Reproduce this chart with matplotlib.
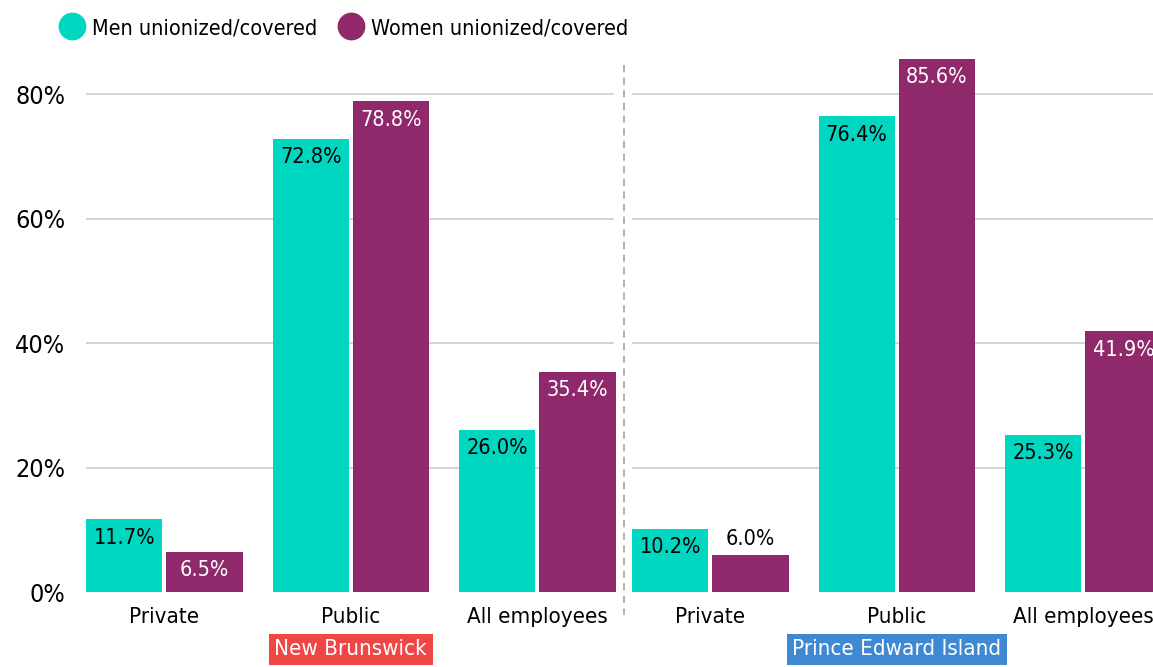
import matplotlib
matplotlib.use("Agg")
import matplotlib.pyplot as plt
from matplotlib import font_manager
from matplotlib.lines import Line2D
import numpy as np

# data
categories = ["Private", "Public", "All employees"]
regions = ["New Brunswick", "Prince Edward Island"]
region_colors = ["#ef4646", "#3f88d2"]
men = [[11.7, 72.8, 26.0], [10.2, 76.4, 25.3]]
women = [[6.5, 78.8, 35.4], [6.0, 85.6, 41.9]]
yticks = [0, 20, 40, 60, 80]

TEAL = "#00d7c0"
PURPLE = "#90296b"

names = {f.name for f in font_manager.fontManager.ttflist}
if "Liberation Sans Narrow" in names:
    FONT = "Liberation Sans Narrow"
    STRETCH = "normal"
else:
    FONT = "DejaVu Sans"
    STRETCH = "condensed"
plt.rcParams["font.family"] = FONT
plt.rcParams["font.stretch"] = STRETCH

W, H = 1153, 667
fig = plt.figure(figsize=(W / 100, H / 100), dpi=100)

px = 186.5  # pixels per category
xlim = (-0.42, 2.42)
ax_w = (xlim[1] - xlim[0]) * px
ymax = 87
ax_h = ymax * 6.225
lefts = [86, 632]

x = np.arange(len(categories))
bw = 0.41
off = 0.215

for i, left in enumerate(lefts):
    ax = fig.add_axes([left / W, (H - 592) / H, ax_w / W, ax_h / H])
    ax.set_xlim(*xlim)
    ax.set_ylim(0, ymax)
    for s in ax.spines.values():
        s.set_visible(False)
    for t in yticks[1:]:
        ax.axhline(t, xmax=0.995, color="#cccccc", lw=1.2, zorder=0)
    ax.bar(x - off, men[i], bw, color=TEAL, zorder=2)
    ax.bar(x + off, women[i], bw, color=PURPLE, zorder=2)
    for j in range(len(categories)):
        for v, xx, inside_col in ((men[i][j], x[j] - off, "black"),
                                  (women[i][j], x[j] + off, "white")):
            if v > 6.2:
                ax.annotate(f"{v:.1f}%", (xx, v), xytext=(0, -6),
                            textcoords="offset points", ha="center", va="top",
                            fontsize=15.5, color=inside_col, zorder=3)
            else:
                ax.annotate(f"{v:.1f}%", (xx, v), xytext=(0, 4),
                            textcoords="offset points", ha="center", va="bottom",
                            fontsize=15.5, color="black", zorder=3)
    ax.set_xticks(x)
    ax.set_xticklabels(categories, fontsize=16)
    ax.tick_params(axis="x", length=0, pad=11)
    if i == 0:
        ax.set_yticks(yticks)
        ax.set_yticklabels([f"{t}%" for t in yticks], fontsize=18)
        ax.tick_params(axis="y", length=0, pad=15)
    else:
        ax.set_yticks([])
    ax.annotate(regions[i], (1, 0), xycoords=("data", "axes fraction"),
                xytext=(0, -34), textcoords="offset points", ha="center", va="top",
                fontsize=16, color="white",
                bbox=dict(boxstyle="square,pad=0.25", fc=region_colors[i], ec="none"))

# dashed divider
fig.add_artist(Line2D([624 / W, 624 / W], [1 - 65 / H, 1 - 615 / H],
                      color="#aaaaaa", lw=1.3, ls=(0, (4, 3))))

handles = [Line2D([], [], marker="o", ls="", ms=19, color=TEAL),
           Line2D([], [], marker="o", ls="", ms=19, color=PURPLE)]
fig.legend(handles, ["Men unionized/covered", "Women unionized/covered"],
           loc="center left", bbox_to_anchor=(40 / W, 1 - 28 / H), ncol=2,
           frameon=False, fontsize=15.5, handletextpad=0.3, columnspacing=1.0,
           handlelength=1.2)

fig.savefig("out.png", dpi=100)
